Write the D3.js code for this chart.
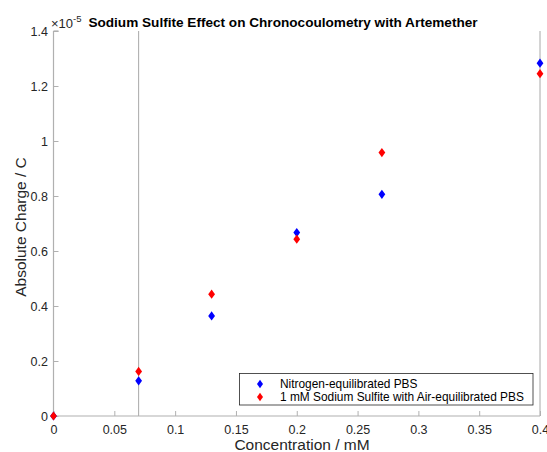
<!DOCTYPE html>
<html>
<head>
<meta charset="utf-8">
<script src="https://cdn.jsdelivr.net/npm/d3@7"></script>
<style>
  body { margin: 0; background: #fff; }
  text { font-family: "Liberation Sans", Arial, Helvetica, sans-serif; }
</style>
</head>
<body>
<div id="chart"></div>
<script>
// data (charge values in units of 1e-5 C)
var concentrations = [0, 0.07, 0.13, 0.2, 0.27, 0.4];
var nitrogenCharge = [0, 0.128, 0.364, 0.667, 0.806, 1.283];
var sulfiteCharge = [0, 0.162, 0.443, 0.643, 0.958, 1.245];
var seriesNames = ["Nitrogen-equilibrated PBS", "1 mM Sodium Sulfite with Air-equilibrated PBS"];
var xTicks = [0, 0.05, 0.1, 0.15, 0.2, 0.25, 0.3, 0.35, 0.4];
var yTicks = [0, 0.2, 0.4, 0.6, 0.8, 1, 1.2, 1.4];
var refLines = [0.07, 0.4];

var width = 547, height = 452;
var margin = { top: 31, right: 7, bottom: 36, left: 53.5 };
var plotW = width - margin.left - margin.right,
    plotH = height - margin.top - margin.bottom;

var svg = d3.select("#chart").append("svg")
    .attr("width", width)
    .attr("height", height);

var g = svg.append("g")
    .attr("transform", `translate(${margin.left}, ${margin.top})`);

var x = d3.scaleLinear().domain([0, 0.4]).range([0, plotW]);
var y = d3.scaleLinear().domain([0, 1.4]).range([plotH, 0]);

var axisColor = "#b0b0b0", textColor = "#262626";

// reference vertical lines
g.selectAll(".ref")
    .data(refLines)
    .enter().append("line")
    .attr("x1", d => x(d)).attr("x2", d => x(d))
    .attr("y1", 0).attr("y2", plotH)
    .attr("stroke", "#a8a8a8")
    .attr("stroke-width", 1);

// x axis (ticks inside)
var xAxis = g.append("g")
    .attr("transform", "translate(0," + plotH + ")")
    .call(d3.axisBottom(x).tickValues(xTicks).tickSize(-5).tickPadding(9)
        .tickFormat(d => d3.format("~g")(d)));
// y axis
var yAxis = g.append("g")
    .call(d3.axisLeft(y).tickValues(yTicks).tickSize(-5).tickPadding(5.5)
        .tickFormat(d => d3.format("~g")(d)));

[xAxis, yAxis].forEach(function (a) {
    a.select(".domain").attr("stroke", axisColor).attr("stroke-width", 1.2);
    a.selectAll(".tick line").attr("stroke", axisColor);
    a.selectAll(".tick text")
        .attr("fill", textColor)
        .style("font-size", "12.5px");
});
xAxis.select(".domain").attr("d", "M0,0H" + plotW);
yAxis.select(".domain").attr("d", "M0," + plotH + "V0");
// MATLAB style little hook at the top of the y axis
yAxis.append("line").attr("x1", 0).attr("x2", 5).attr("y1", 0).attr("y2", 0)
    .attr("stroke", axisColor).attr("stroke-width", 1.2);

// exponent label
var expo = svg.append("text")
    .attr("x", 51)
    .attr("y", 28)
    .attr("fill", textColor)
    .style("font-size", "13px");
expo.append("tspan").text("\u00d710");
expo.append("tspan").attr("dy", -6).style("font-size", "9.5px").text("-5");

// title
svg.append("text")
    .attr("x", 283)
    .attr("y", 26.5)
    .attr("text-anchor", "middle")
    .attr("fill", "#000")
    .style("font-size", "13.6px")
    .style("font-weight", "bold")
    .text("Sodium Sulfite Effect on Chronocoulometry with Artemether");

// axis labels
svg.append("text")
    .attr("x", 302)
    .attr("y", 449.5)
    .attr("text-anchor", "middle")
    .attr("fill", textColor)
    .style("font-size", "15.5px")
    .text("Concentration / mM");

svg.append("text")
    .attr("transform", "translate(25.5,227) rotate(-90)")
    .attr("text-anchor", "middle")
    .attr("fill", textColor)
    .style("font-size", "15.5px")
    .text("Absolute Charge / C");

// diamond marker
function diamond(w, h) {
    return "M0," + (-h) + "L" + w + ",0L0," + h + "L" + (-w) + ",0Z";
}

var series = [
    { name: seriesNames[0], values: nitrogenCharge, color: "#0000ff" },
    { name: seriesNames[1], values: sulfiteCharge, color: "#ff0000" }
];

series.forEach(function (s) {
    g.selectAll(null)
        .data(concentrations.map((c, i) => ({ c: c, v: s.values[i] })))
        .enter().append("path")
        .attr("d", diamond(3.4, 4.6))
        .attr("transform", d => `translate(${x(d.c)}, ${y(d.v)})`)
        .attr("fill", s.color);
});

// legend
var legend = svg.append("g").attr("transform", "translate(239.5, 373.5)");
legend.append("rect")
    .attr("width", 293.5).attr("height", 31.5)
    .attr("fill", "#fff")
    .attr("stroke", "#262626")
    .attr("stroke-width", 0.8);
series.forEach(function (s, i) {
    var row = legend.append("g").attr("transform", "translate(0," + (10.5 + i * 13) + ")");
    row.append("path")
        .attr("d", diamond(3, 4.2))
        .attr("transform", "translate(20.5,0)")
        .attr("fill", s.color);
    row.append("text")
        .attr("x", 40.5)
        .attr("dy", "0.35em")
        .attr("fill", "#000")
        .style("font-size", "11.9px")
        .text(s.name);
});
</script>
</body>
</html>
